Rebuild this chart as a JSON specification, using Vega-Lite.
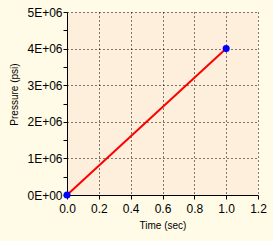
{
  "$schema": "https://vega.github.io/schema/vega-lite/v6.json",
  "autosize": "none",
  "width": 191,
  "height": 183,
  "padding": {"left": 67, "top": 12, "right": 15, "bottom": 46},
  "background": "#FFFBE6",
  "config": {
    "view": {"fill": "#FEEEDC", "stroke": null},
    "axis": {
      "labelFont": "Liberation Sans",
      "titleFont": "Liberation Sans",
      "labelFontSize": 12,
      "titleFontSize": 10,
      "titleFontWeight": "normal",
      "labelColor": "#000000",
      "titleColor": "#000000",
      "domainColor": "#000000",
      "domainWidth": 1,
      "tickColor": "#000000",
      "tickSize": 4,
      "gridColor": "#000000",
      "gridDash": [1, 3],
      "gridWidth": 1
    }
  },
  "data": {
    "values": [
      {"time": 0.0, "pressure": 0},
      {"time": 1.0, "pressure": 4000000}
    ]
  },
  "encoding": {
    "x": {
      "field": "time", "type": "quantitative",
      "scale": {"domain": [0, 1.2], "nice": false},
      "axis": {
        "title": "Time (sec)",
        "values": [0, 0.2, 0.4, 0.6, 0.8, 1.0, 1.2],
        "format": ".1f",
        "grid": true,
        "labelOverlap": false,
        "labelBound": false,
        "labelFlush": false,
        "labelPadding": 4,
        "titlePadding": 6,
        "gridOpacity": {"condition": {"test": "datum.value == 0", "value": 0}, "value": 1}
      }
    },
    "y": {
      "field": "pressure", "type": "quantitative",
      "scale": {"domain": [0, 5000000], "nice": false},
      "axis": {
        "title": "Pressure (psi)",
        "values": [0, 500000, 1000000, 1500000, 2000000, 2500000, 3000000, 3500000, 4000000, 4500000, 5000000],
        "labelExpr": "datum.value == 0 ? '0E+00' : (datum.value % 1000000 == 0 ? (datum.value / 1000000) + 'E+06' : '')",
        "grid": true,
        "labelOverlap": false,
        "labelBound": false,
        "labelFlush": false,
        "labelPadding": 1,
        "titleX": -53,
        "titleY": 82,
        "titleBaseline": "middle",
        "titleAlign": "center",
        "gridOpacity": {"condition": {"test": "datum.value % 1000000 != 0 || datum.value == 0", "value": 0}, "value": 1}
      }
    }
  },
  "layer": [
    {
      "mark": {"type": "line", "color": "#FF0000", "strokeWidth": 2}
    },
    {
      "mark": {"type": "point", "filled": true, "color": "#0000FF", "size": 50, "opacity": 1}
    }
  ]
}
